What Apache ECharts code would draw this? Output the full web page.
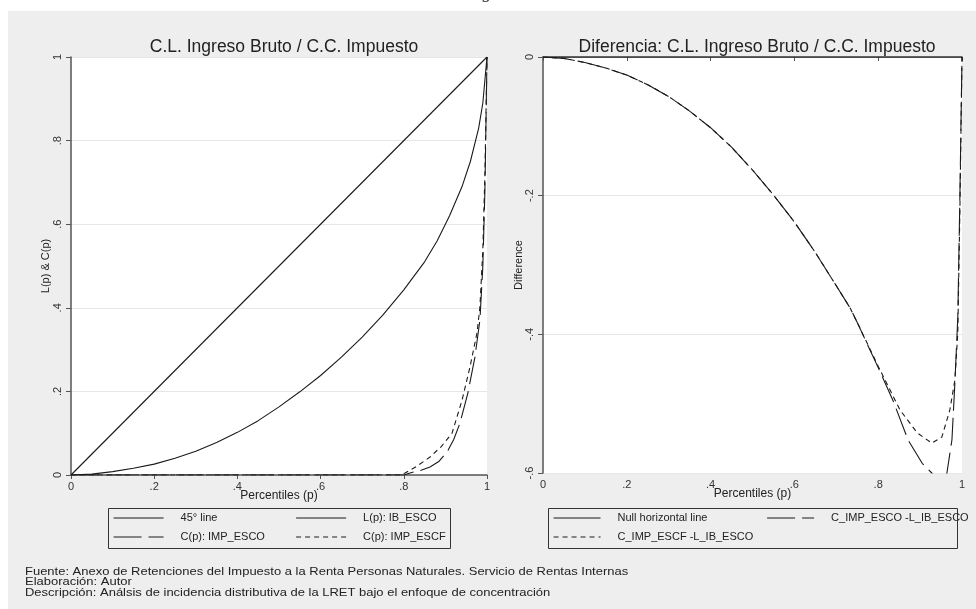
<!DOCTYPE html>
<html>
<head>
<meta charset="utf-8">
<script src="https://cdn.jsdelivr.net/npm/echarts@6/dist/echarts.min.js"></script>
<style>
  html, body { margin: 0; padding: 0; background: #ffffff; }
  #chart { width: 976px; height: 609px; }
</style>
</head>
<body>
<div id="chart"></div>
<script>
// Concentration curves: gross income (Lorenz) vs. tax (concentration)

// Left panel: 45 degree line
const pDiag = [0, 1];
const lDiag = [0, 1];

// Left panel: Lorenz curve of gross income, L(p): IB_ESCO
const pLorenz = [0, 0.05, 0.1, 0.15, 0.2, 0.25, 0.3, 0.35, 0.4, 0.45, 0.5, 0.55, 0.6, 0.65, 0.7, 0.75, 0.8, 0.85, 0.88, 0.91, 0.94, 0.96, 0.98, 0.99, 1];
const lLorenz = [0, 0.002, 0.008, 0.016, 0.026, 0.04, 0.057, 0.078, 0.102, 0.13, 0.163, 0.199, 0.238, 0.282, 0.33, 0.383, 0.443, 0.51, 0.56, 0.62, 0.69, 0.75, 0.83, 0.89, 1];

// Left panel: concentration curve of tax, C(p): IMP_ESCO
const pEsco = [0, 0.8, 0.815, 0.84, 0.863, 0.885, 0.904, 0.92, 0.935, 0.954, 0.971, 0.983, 0.99, 0.995, 1];
const cEsco = [0, 0, 0.005, 0.011, 0.019, 0.033, 0.055, 0.085, 0.124, 0.196, 0.282, 0.371, 0.5, 0.68, 1];

// Left panel: concentration curve of tax, C(p): IMP_ESCF
const pEscf = [0, 0.79, 0.803, 0.83, 0.863, 0.89, 0.916, 0.94, 0.959, 0.976, 0.983, 0.99, 0.995, 1];
const cEscf = [0, 0, 0.005, 0.02, 0.043, 0.068, 0.1, 0.179, 0.258, 0.34, 0.402, 0.54, 0.72, 1];

// Right panel: null horizontal line
const pNull = [0, 1];
const dNull = [0, 0];

// Right panel: C_IMP_ESCO - L_IB_ESCO
const pDiffEsco = [0, 0.05, 0.1, 0.15, 0.2, 0.25, 0.3, 0.35, 0.4, 0.45, 0.5, 0.55, 0.6, 0.65, 0.7, 0.733, 0.75, 0.8, 0.835, 0.871, 0.905, 0.928, 0.945, 0.964, 0.976, 0.983, 0.99, 0.995, 1];
const dDiffEsco = [0, -0.002, -0.008, -0.016, -0.026, -0.04, -0.057, -0.078, -0.102, -0.13, -0.163, -0.199, -0.238, -0.282, -0.33, -0.362, -0.383, -0.448, -0.495, -0.552, -0.586, -0.6, -0.625, -0.6, -0.552, -0.47, -0.375, -0.2, 0];

// Right panel: C_IMP_ESCF - L_IB_ESCO
const pDiffEscf = [0, 0.05, 0.1, 0.15, 0.2, 0.25, 0.3, 0.35, 0.4, 0.45, 0.5, 0.55, 0.6, 0.65, 0.7, 0.733, 0.75, 0.8, 0.852, 0.893, 0.928, 0.952, 0.971, 0.983, 0.99, 0.995, 1];
const dDiffEscf = [0, -0.002, -0.008, -0.016, -0.026, -0.04, -0.057, -0.078, -0.102, -0.13, -0.163, -0.199, -0.238, -0.282, -0.33, -0.362, -0.383, -0.446, -0.509, -0.542, -0.557, -0.548, -0.509, -0.466, -0.398, -0.22, 0];

const leftTitle = 'C.L. Ingreso Bruto / C.C. Impuesto';
const rightTitle = 'Diferencia: C.L. Ingreso Bruto / C.C. Impuesto';
const footerLines = [
  'Fuente: Anexo de Retenciones del Impuesto a la Renta Personas Naturales. Servicio de Rentas Internas',
  'Elaboración: Autor',
  'Descripción: Análsis de incidencia distributiva de la LRET bajo el enfoque de concentración'
];

const FONT = '"Liberation Sans", Arial, sans-serif';
const INK = '#1a1a1a';
const zip = (xs, ys) => xs.map((x, i) => [x, ys[i]]);
const tickFmt = v => {
  if (Math.abs(v) < 1e-9) return '0';
  const s = String(Math.round(v * 10) / 10);
  return s.replace('0.', '.');
};

function xAxisFor(gridIndex) {
  return {
    type: 'value', gridIndex, min: 0, max: 1, interval: 0.2,
    name: 'Percentiles (p)', nameLocation: 'middle', nameGap: 15, nameMoveOverlap: false,
    nameTextStyle: { fontFamily: FONT, fontSize: 12, color: '#222' },
    axisLine: { lineStyle: { color: '#555', width: 1.5 } },
    axisTick: { show: true, length: 4, lineStyle: { color: '#555' } },
    axisLabel: { formatter: tickFmt, fontFamily: FONT, fontSize: 11, color: '#333', margin: 6 },
    splitLine: { show: false }
  };
}
function yAxisFor(gridIndex, min, max, name, gap) {
  return {
    type: 'value', gridIndex, min, max, interval: 0.2,
    name, nameLocation: 'middle', nameGap: gap, nameRotate: 90, nameMoveOverlap: false,
    nameTextStyle: { fontFamily: FONT, fontSize: 11, color: '#222' },
    axisLine: { show: true, lineStyle: { color: '#555', width: 1.5 } },
    axisTick: { show: true, length: 5, lineStyle: { color: '#555' } },
    axisLabel: { formatter: tickFmt, rotate: 90, fontFamily: FONT, fontSize: 11, color: '#333', margin: 8 },
    splitLine: { show: true, lineStyle: { color: '#e6e6e6', width: 1 } }
  };
}
function lineSeries(name, data, xi, dash) {
  return {
    name, type: 'line', xAxisIndex: xi, yAxisIndex: xi, data,
    symbol: 'none', smooth: false, clip: true, animation: false,
    lineStyle: { color: INK, width: 1.1, type: dash || 'solid' },
    itemStyle: { color: INK }
  };
}
const legendText = (w) => ({
  fontFamily: FONT, fontSize: 11, color: '#222', lineHeight: 14,
  width: w, padding: [0, 0, 0, 12], overflow: 'none'
});
const legendBase = {
  orient: 'horizontal', itemHeight: 14, itemGap: 5, padding: [3, 3, 4, 5],
  borderWidth: 0, backgroundColor: 'transparent',
  selectedMode: false,
  itemStyle: { opacity: 0 },
  lineStyle: { width: 1.1 }
};
const boxStyle = { fill: 'none', stroke: '#333', lineWidth: 1 };

const chart = echarts.init(document.getElementById('chart'), null, { renderer: 'canvas' });
chart.setOption({
  animation: false,
  backgroundColor: 'transparent',
  graphic: [
    { type: 'rect', left: 8, top: 11, shape: { width: 968, height: 598 }, style: { fill: '#eeeeee' }, z: -10 },
    { type: 'text', left: 481, top: -14, style: { text: 'g', font: '16px "DejaVu Serif", serif', fill: '#333' } },
    { type: 'rect', left: 71, top: 57, shape: { width: 416, height: 418 }, style: { fill: '#ffffff' }, z: -5 },
    { type: 'rect', left: 543, top: 57, shape: { width: 419, height: 416 }, style: { fill: '#ffffff' }, z: -5 },
    // legend frames
    { type: 'rect', shape: { x: 108.5, y: 508.5, width: 342, height: 40 }, style: boxStyle, z: 10 },
    { type: 'rect', shape: { x: 548.5, y: 508.5, width: 409, height: 40 }, style: boxStyle, z: 10 },
    ...footerLines.map((t, i) => ({
      type: 'text', x: 25, y: 566 + i * 10.5, scaleX: 1.18, originX: 0, originY: 0,
      style: { text: t, font: '11px "Liberation Sans", Arial, sans-serif', fill: '#222' }
    }))
  ],
  title: [
    { text: leftTitle, left: 279, top: 33, textAlign: 'center',
      textStyle: { fontFamily: FONT, fontSize: 17.5, fontWeight: 'normal', color: '#222' } },
    { text: rightTitle, left: 752, top: 33, textAlign: 'center',
      textStyle: { fontFamily: FONT, fontSize: 17.5, fontWeight: 'normal', color: '#222' } }
  ],
  grid: [
    { left: 71, top: 57, width: 416, height: 418, containLabel: false },
    { left: 543, top: 57, width: 419, height: 416, containLabel: false }
  ],
  xAxis: [xAxisFor(0), xAxisFor(1)],
  yAxis: [yAxisFor(0, 0, 1, 'L(p) & C(p)', 20), yAxisFor(1, -0.6, 0, 'Difference', 19)],
  legend: [
    Object.assign({}, legendBase, {
      left: 108, top: 508, width: 345, itemWidth: 50,
      textStyle: legendText(110),
      data: [
        { name: '45° line' },
        { name: 'L(p): IB_ESCO', textStyle: legendText(81) },
        { name: 'C(p): IMP_ESCO' },
        { name: 'C(p): IMP_ESCF', textStyle: legendText(81) }
      ]
    }),
    Object.assign({}, legendBase, {
      left: 548, top: 508, width: 440, itemWidth: 47,
      textStyle: legendText(144),
      data: [
        { name: 'Null horizontal line' },
        { name: 'C_IMP_ESCO -L_IB_ESCO', textStyle: legendText(122) },
        { name: 'C_IMP_ESCF -L_IB_ESCO' }
      ]
    })
  ],
  series: [
    lineSeries('45° line', zip(pDiag, lDiag), 0),
    lineSeries('L(p): IB_ESCO', zip(pLorenz, lLorenz), 0),
    lineSeries('C(p): IMP_ESCO', zip(pEsco, cEsco), 0, [28, 7]),
    lineSeries('C(p): IMP_ESCF', zip(pEscf, cEscf), 0, [5, 4]),
    lineSeries('Null horizontal line', zip(pNull, dNull), 1),
    lineSeries('C_IMP_ESCO -L_IB_ESCO', zip(pDiffEsco, dDiffEsco), 1, [28, 7]),
    lineSeries('C_IMP_ESCF -L_IB_ESCO', zip(pDiffEscf, dDiffEscf), 1, [5, 4])
  ]
});
</script>
</body>
</html>
